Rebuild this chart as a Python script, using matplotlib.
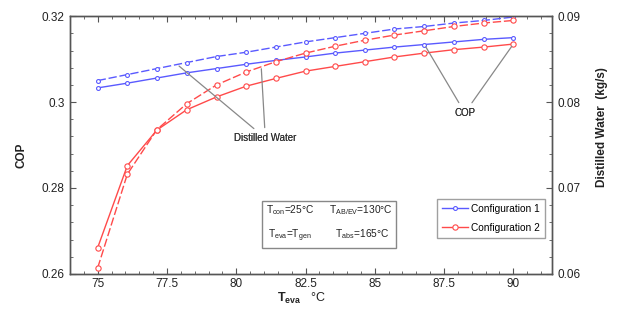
import numpy as np
import matplotlib
matplotlib.use("Agg")
import matplotlib.pyplot as plt
from matplotlib.ticker import MultipleLocator

plt.rcParams["font.family"] = ["Liberation Sans", "DejaVu Sans"]
plt.rcParams["mathtext.fontset"] = "custom"
plt.rcParams["mathtext.rm"] = "Liberation Sans"
plt.rcParams["mathtext.bf"] = "Liberation Sans:bold"
plt.rcParams["mathtext.it"] = "Liberation Sans"

# Evaporator temperature (°C)
t_eva = [75.0, 76.07, 77.14, 78.21, 79.29, 80.36, 81.43, 82.5,
         83.57, 84.64, 85.71, 86.79, 87.86, 88.93, 90.0]

# COP (left axis)
cop_cfg1 = [0.3033, 0.3044, 0.3056, 0.3068, 0.3078, 0.3088, 0.3097, 0.3105,
            0.3114, 0.3121, 0.3128, 0.3134, 0.3140, 0.3146, 0.3150]
cop_cfg2 = [0.2661, 0.2852, 0.2935, 0.2982, 0.3012, 0.3037, 0.3055, 0.3072,
            0.3083, 0.3094, 0.3105, 0.3114, 0.3122, 0.3128, 0.3135]

# Distilled water production (kg/s, right axis)
water_cfg1 = [0.0825, 0.0832, 0.0839, 0.0846, 0.0853, 0.0858, 0.0864, 0.0870,
              0.0875, 0.0880, 0.0885, 0.0888, 0.0892, 0.0895, 0.0899]
water_cfg2 = [0.0607, 0.0716, 0.0768, 0.0798, 0.0820, 0.0835, 0.0847, 0.0857,
              0.0865, 0.0872, 0.0878, 0.0883, 0.0888, 0.0892, 0.0895]

x_ticks = [75, 77.5, 80, 82.5, 85, 87.5, 90]
x_tick_labels = ["75", "77.5", "80", "82.5", "85", "87.5", "90"]
cop_ticks = [0.26, 0.28, 0.30, 0.32]
cop_tick_labels = ["0.26", "0.28", "0.3", "0.32"]
water_ticks = [0.06, 0.07, 0.08, 0.09]
water_tick_labels = ["0.06", "0.07", "0.08", "0.09"]

blue = "#5a5aff"
red = "#ff4a4a"
frame = "#555555"
grey = "#888888"

fig = plt.figure(figsize=(6.19, 3.23), dpi=100)
ax = fig.add_axes([0.113, 0.152, 0.779, 0.798])
ax2 = ax.twinx()

kw1 = dict(color=blue, lw=1.0, marker="o", ms=2.8, mfc="white", mec=blue, mew=0.8)
kw2 = dict(color=red, lw=1.0, marker="o", ms=3.8, mfc="white", mec=red, mew=0.8)

l1, = ax.plot(t_eva, cop_cfg1, **kw1)
l2, = ax.plot(t_eva, cop_cfg2, **kw2)
ax2.plot(t_eva, water_cfg1, dashes=(6, 2), **kw1)
ax2.plot(t_eva, water_cfg2, dashes=(6, 2), **kw2)

ax.set_xlim(74.0, 91.4)
ax.set_ylim(0.26, 0.32)
ax2.set_ylim(0.06, 0.09)

ax.set_xticks(x_ticks)
ax.set_xticklabels(x_tick_labels)
ax.set_yticks(cop_ticks)
ax.set_yticklabels(cop_tick_labels)
ax2.set_yticks(water_ticks)
ax2.set_yticklabels(water_tick_labels)
ax.xaxis.set_minor_locator(MultipleLocator(0.5))
ax.yaxis.set_minor_locator(MultipleLocator(0.004))
ax2.yaxis.set_minor_locator(MultipleLocator(0.002))

for a in (ax, ax2):
    for s in a.spines.values():
        s.set_color(frame)
        s.set_linewidth(1.0)
ax.tick_params(axis="both", which="both", direction="in", colors=frame,
               labelcolor="#222222", labelsize=8.5, top=True)
ax.tick_params(axis="x", which="major", length=4, pad=3)
ax.tick_params(axis="x", which="minor", length=2)
ax.tick_params(axis="y", which="major", length=4, pad=4)
ax.tick_params(axis="y", which="minor", length=2)
ax2.tick_params(axis="y", which="both", direction="in", colors=frame,
                labelcolor="#222222", labelsize=8.5)
ax2.tick_params(axis="y", which="major", length=4, pad=4)
ax2.tick_params(axis="y", which="minor", length=2)

fig.text(0.034, 0.52, "COP", rotation=90, ha="center", va="center",
         fontsize=8.5, fontweight="bold", color="#222222")
fig.text(0.973, 0.607, "Distilled Water  (kg/s)", rotation=90, ha="center",
         va="center", fontsize=8.5, fontweight="bold", color="#222222")
fig.text(0.487, 0.075, r"$\mathbf{T_{eva}}$   °C", ha="center", va="center",
         fontsize=9, color="#222222")

# Annotations for the two groups of curves
ann = dict(arrowprops=dict(arrowstyle="-", color=grey, lw=0.9),
           fontsize=7, color="#333333", ha="center", va="center")
ax.annotate("COP", xy=(t_eva[11], cop_cfg1[11]), xytext=(88.25, 0.2975), **ann)
ax.annotate("COP", xy=(t_eva[14], cop_cfg2[14]), xytext=(88.25, 0.2975), **ann)
ax2.annotate("Distilled Water", xy=(77.86, 0.0844), xytext=(81.05, 0.0758), **ann)
ax2.annotate("Distilled Water", xy=(80.9, 0.0842), xytext=(81.05, 0.0758), **ann)

# Operating conditions box
box_txt = ("T$_{\\mathrm{con}}$=25°C      T$_{\\mathrm{AB/EV}}$=130°C\n"
           "T$_{\\mathrm{eva}}$=T$_{\\mathrm{gen}}$         T$_{\\mathrm{abs}}$=165°C")
ax.text(83.35, 0.2718, box_txt, fontsize=7.3, color="#222222", ha="center",
        va="center", linespacing=2.0,
        bbox=dict(boxstyle="square,pad=0.4", fc="white", ec=grey, lw=1.0))

leg = ax.legend([l1, l2], ["Configuration 1", "Configuration 2"],
                loc="lower right", bbox_to_anchor=(0.995, 0.12), fontsize=7.3,
                frameon=True, fancybox=False, edgecolor=grey, handlelength=2.5,
                borderpad=0.5, labelspacing=0.9, handletextpad=0.3)
leg.get_frame().set_linewidth(1.0)

fig.savefig("out.png", dpi=100)
